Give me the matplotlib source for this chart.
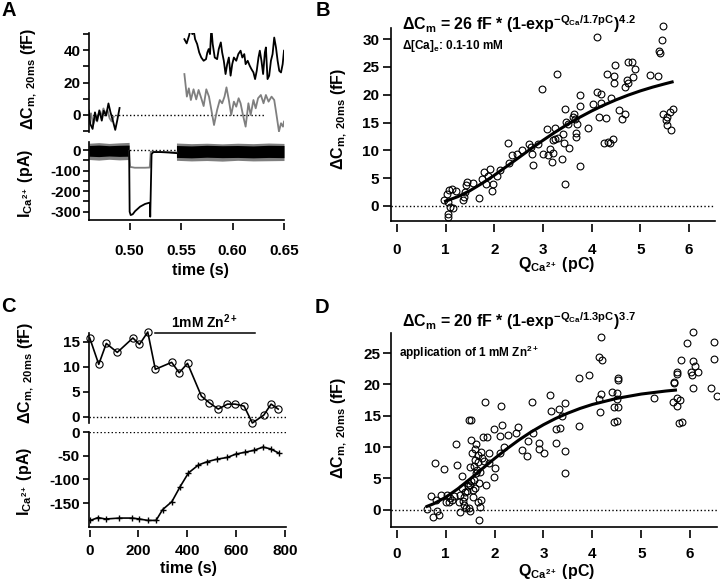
import matplotlib
matplotlib.use('Agg')
import matplotlib.pyplot as plt

plt.rcParams['font.family'] = ['Liberation Sans', 'DejaVu Sans']
plt.rcParams['font.weight'] = 'bold'
plt.rcParams['mathtext.fontset'] = 'custom'
plt.rcParams['mathtext.rm'] = 'Liberation Sans:bold'
plt.rcParams['mathtext.it'] = 'Liberation Sans:bold'
plt.rcParams['mathtext.bf'] = 'Liberation Sans:bold'
plt.rcParams['mathtext.sf'] = 'Liberation Sans:bold'
plt.rcParams['mathtext.default'] = 'regular'
plt.rcParams['axes.unicode_minus'] = False

GRAY = '#7f7f7f'

# ---- panel A: capacitance traces (fF) ----
capA_t_pre = [0.4605, 0.4617, 0.4640, 0.4663, 0.4683, 0.4706, 0.4729, 0.4748,
              0.4771, 0.4794, 0.4814, 0.4837, 0.4860, 0.4879, 0.4902]
capA_blk_pre = [2.6, -5.5, -8.6, 1.6, -3.5, 2.6, -3.5, 2.6, -0.4, 7.1, 1.6,
                -3.5, -9.2, -3.5, 4.3]
capA_t_pre_g = [0.4605, 0.4625, 0.4645, 0.4665, 0.4685, 0.4705, 0.4725, 0.4745,
                0.4765, 0.4785, 0.4805, 0.4825, 0.4845]
capA_gry_pre = [-3, 1, -6, -2, -4, 3, -1, 4, 1, 3, -2, -4, -1]

capA_t_blk = [0.5532, 0.5554, 0.5577, 0.5596, 0.5609, 0.5623, 0.5636, 0.5656,
              0.5676, 0.5696, 0.5719, 0.5742, 0.5755, 0.5768, 0.5781, 0.5794,
              0.5807, 0.5827, 0.5850, 0.5866, 0.5886, 0.5899, 0.5915, 0.5932,
              0.5948, 0.5964, 0.5981, 0.5997, 0.6013, 0.6036, 0.6056, 0.6078,
              0.6095, 0.6114, 0.6127, 0.6147, 0.6167, 0.6183, 0.6203, 0.6219,
              0.6235, 0.6252, 0.6265, 0.6281, 0.6297, 0.6314, 0.6324, 0.6340,
              0.6356, 0.6373, 0.6389, 0.6405, 0.6422, 0.6438, 0.6454, 0.6471,
              0.6487, 0.6500]
capA_blk = [46.7, 44.1, 48.8, 53.9, 49.8, 51.8, 46.7, 43.7, 38.5, 35.4, 33.4,
            34.4, 38.5, 40.6, 37.5, 53.9, 43.7, 35.4, 34.4, 40.6, 44.7, 38.5,
            33.4, 25.2, 31.3, 35.4, 24.2, 31.3, 35.4, 33.4, 37.5, 39.6, 35.4,
            37.5, 31.3, 33.4, 30.3, 28.3, 26.2, 22.1, 27.2, 35.4, 39.6, 33.4,
            25.2, 38.5, 41.6, 22.1, 24.2, 33.4, 37.5, 47.7, 41.6, 33.4, 27.2,
            26.2, 31.3, 39.6]

capA_t_gry = [0.5532, 0.5556, 0.5575, 0.5595, 0.5621, 0.5647, 0.5670, 0.5696,
              0.5719, 0.5745, 0.5771, 0.5794, 0.5820, 0.5850, 0.5876, 0.5899,
              0.5922, 0.5941, 0.5964, 0.5987, 0.6013, 0.6036, 0.6059, 0.6078,
              0.6101, 0.6127, 0.6154, 0.6176, 0.6203, 0.6225, 0.6248, 0.6275,
              0.6301, 0.6324, 0.6350, 0.6379, 0.6405, 0.6425, 0.6451, 0.6471,
              0.6490, 0.6500]
capA_gry = [25.2, 11.3, 16.4, 9.2, 15.8, 9.6, 15.4, 10.3, 5.5, 15.8, 11.3, 3.1,
            -6.2, 3.1, 9.2, 7.2, 11.3, 17.0, 9.2, 0.0, 8.2, 5.1, 10.3, 7.2, 0.0,
            -7.2, 7.2, 0.0, 9.2, 4.1, 10.3, 12.3, 7.2, 12.3, 8.2, 11.3, 9.2, 1.0,
            -10.2, -5.1, -7.2, -4.1]

# ---- panel A: Ca current (pA), noise envelopes and step ----
noise_pre_t = [0.4605, 0.470, 0.480, 0.490, 0.4995]
noise_gry_pre_lo = [-46, -49, -45, -48, -46]
noise_gry_pre_hi = [33, 36, 32, 35, 37]
noise_blk_pre_lo = [-30, -32, -29, -31, -30]
noise_blk_pre_hi = [22, 24, 21, 23, 24]
noise_post_t = [0.5455, 0.560, 0.575, 0.590, 0.605, 0.620, 0.635, 0.6500]
noise_gry_post_lo = [-50, -53, -51, -54, -50, -53, -52, -51]
noise_gry_post_hi = [34, 31, 33, 30, 33, 31, 34, 32]
noise_blk_post_lo = [-36, -38, -35, -37, -36, -38, -36, -37]
noise_blk_post_hi = [22, 20, 23, 21, 22, 20, 23, 22]
step_t_blk = [0.4995, 0.5000, 0.5010, 0.5030, 0.5053, 0.5102, 0.5150, 0.5192,
              0.5197, 0.5200, 0.5213, 0.5230, 0.5300, 0.5380, 0.5455]
step_blk = [-5, -300, -316, -312, -297, -275, -262, -256, -258, -324, -20, -10,
            -10, -12, -15]
step_t_gry = [0.4995, 0.5005, 0.5050, 0.5100, 0.5150, 0.5195, 0.5205, 0.5230,
              0.5455]
step_gry = [-5, -82, -86, -86, -86, -85, -8, -8, -12]

# ---- panel B: dCm vs Q, 0.1-10 mM Ca ----
qB = [0.97, 1.02, 1.08, 1.13, 1.04, 1.09, 1.16, 1.04, 1.04, 1.21, 1.35, 1.37,
      1.40, 1.42, 1.45, 1.56,
      1.69, 1.74, 1.78, 1.84, 1.88, 1.91, 1.95, 1.97, 2.05, 2.12, 2.29, 2.30,
      2.36, 2.46, 2.56,
      2.72, 2.75, 2.80, 2.77, 2.90, 2.97, 2.99, 3.09, 3.11, 3.14, 3.18, 3.21,
      3.20, 3.24, 3.24, 3.28, 3.31, 3.38, 3.41, 3.43, 3.45, 3.46, 3.48, 3.52,
      3.54, 3.62, 3.64, 3.65, 3.67, 3.67, 3.69, 3.76, 3.76, 3.76, 3.93,
      4.03, 4.11, 4.11, 4.18, 4.15, 4.19, 4.25, 4.29, 4.32, 4.34, 4.37, 4.39,
      4.44, 4.45, 4.45, 4.47, 4.56, 4.62, 4.68, 4.68, 4.73, 4.75, 4.75, 4.83,
      4.84, 4.88,
      5.19, 5.36, 5.38, 5.41, 5.44, 5.46, 5.46, 5.53, 5.55, 5.55, 5.60, 5.63,
      5.66]
dcB = [1.15, 2.2, 2.8, 3.0, 0.7, -0.2, -0.4, -1.4, -1.9, 2.65, 1.0, 1.6,
       2.5, 3.7, 4.3, 4.1,
       1.5, 4.9, 6.1, 3.9, 5.35, 6.6, 2.65, 4.0, 5.35, 6.4, 11.4, 7.7,
       9.1, 9.4, 10.0,
       11.2, 10.6, 7.45, 9.4, 11.1, 21.0, 9.3, 13.8, 9.1, 10.3, 7.9, 9.55,
       11.8, 14.1, 12.1, 23.7, 12.3, 8.5, 13.0, 11.4, 4.0, 17.4, 15.1, 14.7,
       10.5, 16.0, 16.6, 15.7, 13.2, 12.4, 14.7, 19.9, 18.0, 7.2, 14.1,
       18.3, 30.3, 20.5, 20.1, 16.0, 18.6, 11.35, 15.9, 23.7, 11.5, 11.35, 19.5,
       12.1, 23.4, 22.2, 25.4, 17.2, 15.6, 16.5, 21.4, 22.6, 22.2, 25.8, 25.8,
       23.2, 24.6,
       23.5, 23.4, 27.9, 27.5, 29.9, 32.3, 16.6, 15.4, 16.0, 14.5, 16.9, 13.6,
       17.5]
fitB_q = [1.0, 1.25, 1.5, 1.75, 2.0, 2.25, 2.5, 2.75, 3.0, 3.25, 3.5, 3.75,
          4.0, 4.25, 4.5, 4.75, 5.0, 5.25, 5.5, 5.65]
fitB_dc = [0.86, 1.67, 2.75, 4.07, 5.52, 7.09, 8.68, 10.27, 11.81, 13.28,
           14.66, 15.93, 17.09, 18.14, 19.09, 19.94, 20.70, 21.37, 21.96, 22.3]

# ---- panel C: time course, 1 mM Zn ----
tC_cap = [0, 37, 68, 113, 177, 204, 238, 269, 336, 367, 401, 458, 490, 527,
          565, 596, 633, 667, 714, 744, 773]
dcC = [15.8, 10.5, 14.7, 12.9, 15.8, 14.5, 17.0, 9.5, 10.9, 8.8, 10.7, 4.1,
       2.8, 1.5, 2.5, 2.5, 2.1, -1.3, 0.3, 2.5, 1.5]
tC_cur = [3, 34, 65, 122, 174, 204, 238, 272, 299, 337, 371, 405, 446, 483,
          520, 565, 599, 637, 673, 711, 742, 776]
iC = [-187, -181, -184, -182, -182, -184, -187, -187, -164, -147, -115, -86,
      -69, -62, -57, -53, -46, -42, -38, -31, -35, -44]
zn_start, zn_end = 268, 676

# ---- panel D: dCm vs Q during Zn application ----
qD = [0.61, 0.70, 0.74, 0.79, 0.80, 0.83, 0.86, 0.91, 0.97, 1.00, 1.02, 1.06,
      1.09, 1.13, 1.16, 1.21, 1.24, 1.28, 1.30, 1.30, 1.33, 1.33, 1.37, 1.38,
      1.42,
      1.45, 1.47, 1.52, 1.49, 1.50, 1.52, 1.54, 1.56, 1.57, 1.59, 1.60, 1.62,
      1.64, 1.66, 1.67, 1.69, 1.71, 1.69, 1.74, 1.77, 1.81, 1.84, 1.88, 1.83,
      1.89, 1.98, 2.00, 1.98, 1.46, 1.52, 1.40, 1.55, 1.60, 1.62, 1.48, 1.36,
      1.44, 1.50, 1.58, 1.65, 1.70, 1.72, 1.78, 1.73,
      2.10, 2.12, 2.14, 2.15, 2.20, 2.28, 2.44, 2.47, 2.56, 2.68, 2.66, 2.77,
      2.78, 2.90, 2.90, 3.01, 3.13, 3.15, 3.26, 3.26, 3.33, 3.31, 3.38, 3.45,
      3.45, 3.45, 3.72, 3.72, 3.93,
      4.13, 4.17, 4.20, 4.15, 4.14, 4.17, 4.40, 4.51, 4.51, 4.45, 4.52, 4.44,
      4.51, 4.52, 4.53,
      5.26, 5.64, 5.67, 5.68, 5.73, 5.74, 5.74, 5.80, 5.74, 5.77, 5.84, 5.81,
      5.94, 6.05, 6.06, 6.09, 6.16, 6.02, 6.04, 6.06, 6.42, 6.49, 6.49, 6.54]
dcD = [0.1, 2.2, -1.2, 7.4, 1.6, -0.2, -0.8, 2.4, 6.5, 1.3, 2.4, 1.2,
       1.9, 1.6, 2.2, 10.5, 7.2, 1.2, 2.4, -0.4, 3.4, 5.4, 2.0, 0.8,
       0.3,
       4.2, 14.4, 14.3, -0.2, 6.9, 11.2, 9.0, 3.2, 4.8, 9.7, 8.0, 10.5,
       6.4, 8.8, 1.3, 4.2, 0.5, -1.6, 8.3, 11.6, 17.2, 11.6, 9.0, 4.0,
       7.4, 5.2, 6.6, 12.9, 3.8, 4.6, 2.8, 2.0, 3.5, 5.8, 0.3, 1.4,
       3.0, 4.0, 7.0, 7.6, 6.0, 9.2, 7.8, 1.5,
       11.7, 9.0, 16.6, 13.5, 10.0, 11.9, 12.2, 13.2, 9.6, 11.0, 8.5, 17.2,
       12.3, 10.7, 9.7, 9.0, 18.3, 15.8, 10.6, 12.9, 13.0, 16.0, 14.9, 17.0,
       9.4, 5.8, 13.3, 21.1, 21.5,
       24.4, 27.6, 23.9, 15.6, 17.6, 18.5, 18.8, 18.6, 17.6, 16.4, 16.4, 14.0,
       14.2, 21.0, 20.7,
       17.9, 17.2, 20.4, 20.2, 22.0, 21.6, 17.9, 17.5, 16.6, 13.9, 14.0, 23.9,
       26.6, 28.3, 23.8, 23.0, 21.9, 21.9, 21.5, 19.5, 19.4, 26.8, 24.1, 18.1]
fitD_q = [0.62, 0.75, 1.0, 1.25, 1.5, 1.75, 2.0, 2.25, 2.5, 2.75, 3.0, 3.25,
          3.5, 3.75, 4.0, 4.5, 5.0, 5.5, 5.7]
fitD_dc = [0.55, 0.95, 2.0, 3.36, 4.92, 6.56, 8.18, 9.72, 11.15, 12.43, 13.57,
           14.57, 15.42, 16.17, 16.80, 17.77, 18.46, 18.94, 19.09]

W, H = 720, 584
fig = plt.figure(figsize=(7.2, 5.84), dpi=100)


def px_axes(l, t, r, b):
    ax = fig.add_axes([l / W, 1 - b / H, (r - l) / W, (b - t) / H])
    ax.patch.set_alpha(0)
    return ax


def ftext(x, y, s, **kw):
    fig.text(x / W, 1 - y / H, s, **kw)


def frame(ax, ylen, ypad, xlen=5, xpad=6, xaxis=True):
    ax.spines[['top', 'right']].set_visible(False)
    ax.spines['left'].set_linewidth(1.2)
    ax.tick_params(axis='y', direction='out', length=ylen, width=1.2,
                   pad=ypad, labelsize=11)
    if xaxis:
        ax.spines['bottom'].set_position(('outward', 2.5))
        ax.spines['bottom'].set_visible(False)
        ax.axhline(ax.get_ylim()[0], color='k', lw=1.2, clip_on=False)
        ax.tick_params(axis='x', direction='out', length=xlen, width=1.2,
                       pad=xpad, labelsize=11)
    else:
        ax.spines['bottom'].set_visible(False)
        ax.tick_params(axis='x', bottom=False, labelbottom=False)


# ---------------- A ----------------
axA1 = px_axes(89, 33, 284, 132)
axA1.set_xlim(0.4605, 0.65)
axA1.set_ylim(-10.5, 50.5)
axA1.plot([0.4605, 0.632], [0, 0], ':', color='k', lw=1)
axA1.plot(capA_t_pre_g, capA_gry_pre, color=GRAY, lw=1.3)
axA1.plot(capA_t_pre, capA_blk_pre, color='k', lw=1.3)
axA1.plot(capA_t_gry, capA_gry, color=GRAY, lw=1.3)
axA1.plot(capA_t_blk, capA_blk, color='k', lw=1.3)
axA1.set_yticks([-10, 0, 10, 20, 30, 40, 50], ['', '0', '', '20', '', '40', ''])
frame(axA1, ylen=4, ypad=2, xaxis=False)

axA2 = px_axes(89, 142, 284, 220)
axA2.set_xlim(0.4605, 0.65)
axA2.set_ylim(-340, 39)
axA2.plot([0.4605, 0.65], [0, 0], ':', color='k', lw=1)
axA2.fill_between(noise_pre_t, noise_gry_pre_lo, noise_gry_pre_hi, color=GRAY, lw=0)
axA2.fill_between(noise_post_t, noise_gry_post_lo, noise_gry_post_hi, color=GRAY, lw=0)
axA2.fill_between(noise_pre_t, noise_blk_pre_lo, noise_blk_pre_hi, color='k', lw=0)
axA2.fill_between(noise_post_t, noise_blk_post_lo, noise_blk_post_hi, color='k', lw=0)
axA2.plot(step_t_gry, step_gry, color=GRAY, lw=1.3)
axA2.plot(step_t_blk, step_blk, color='k', lw=1.3)
axA2.set_yticks([-300, -250, -200, -150, -100, -50, 0],
                ['-300', '', '-200', '', '-100', '', '0'])
axA2.set_xticks([0.50, 0.55, 0.60, 0.65], ['0.50', '0.55', '0.60', '0.65'])
frame(axA2, ylen=4, ypad=2, xlen=5, xpad=10)

# ---------------- B ----------------
axB = px_axes(391, 28, 715, 221)
axB.set_xlim(-0.12, 6.53)
axB.set_ylim(-2.7, 32)
axB.axhline(0, ls=':', color='k', lw=1)
axB.plot(qB, dcB, 'o', mfc='none', mec='k', ms=4.9, mew=0.8, clip_on=False)
axB.plot(fitB_q, fitB_dc, color='k', lw=2.2)
axB.set_xticks(range(7))
axB.set_yticks(range(0, 31, 5))
frame(axB, ylen=5.5, ypad=3, xlen=5.5, xpad=7.5)

# ---------------- C ----------------
axC1 = px_axes(89, 333, 286, 423)
axC1.set_xlim(-3, 805)
axC1.set_ylim(-1.3, 16.8)
axC1.axhline(0, ls=':', color='k', lw=1)
axC1.plot(tC_cap, dcC, '-o', color='k', lw=1.2, mfc='none', mec='k', ms=5.2,
          mew=0.8, clip_on=False)
axC1.plot([zn_start, zn_end], [16.9, 16.9], color='k', lw=1.1, clip_on=False)
axC1.text((zn_start + zn_end) / 2, 17.8, r'1mM Zn$^{2+}$', ha='center',
          va='baseline', fontsize=10)
axC1.set_yticks([0, 5, 10, 15])
frame(axC1, ylen=4.5, ypad=2, xaxis=False)

axC2 = px_axes(89, 432, 286, 527)
axC2.set_xlim(-3, 805)
axC2.set_ylim(-201, 1)
axC2.axhline(0, ls=':', color='k', lw=1)
axC2.plot(tC_cur, iC, '-+', color='k', lw=1.2, ms=5, mew=1)
axC2.set_yticks([0, -50, -100, -150])
axC2.set_xticks([0, 200, 400, 600, 800])
frame(axC2, ylen=4.5, ypad=2, xlen=5, xpad=5)

# ---------------- D ----------------
axD = px_axes(391, 333, 717, 527)
axD.set_xlim(-0.12, 6.55)
axD.set_ylim(-2.75, 28.2)
axD.axhline(0, ls=':', color='k', lw=1)
axD.plot(qD, dcD, 'o', mfc='none', mec='k', ms=4.9, mew=0.8, clip_on=False)
axD.plot(fitD_q, fitD_dc, color='k', lw=2.2)
axD.set_xticks(range(7))
axD.set_yticks(range(0, 26, 5))
frame(axD, ylen=5.5, ypad=2, xlen=5.5, xpad=6.5)

# ---------------- labels ----------------
for letter, x, y in [('A', 1, 16), ('B', 316, 16), ('C', 1, 312), ('D', 315, 313)]:
    ftext(x, y, letter, fontsize=14.5, va='baseline', ha='left')

dcm_label = r'ΔC$_{m,\ 20ms}$ (fF)'
ica_label = r'I$_{Ca^{2+}}$ (pA)'
q_label = r'Q$_{Ca^{2+}}$ (pC)'
ftext(29, 79, dcm_label, rotation=90, ha='center', va='center', fontsize=11.5)
ftext(26, 183, ica_label, rotation=90, ha='center', va='center', fontsize=11.5)
ftext(26, 373, dcm_label, rotation=90, ha='center', va='center', fontsize=11.5)
ftext(24, 481, ica_label, rotation=90, ha='center', va='center', fontsize=11.5)
ftext(339, 119, dcm_label, rotation=90, ha='center', va='center', fontsize=11.5)
ftext(339, 428, dcm_label, rotation=90, ha='center', va='center', fontsize=11.5)

ftext(200, 275, 'time (s)', ha='center', va='baseline', fontsize=11.5)
ftext(188, 573, 'time (s)', ha='center', va='baseline', fontsize=11.5)
ftext(557, 269, q_label, ha='center', va='baseline', fontsize=11.5)
ftext(557, 576, q_label, ha='center', va='baseline', fontsize=11.5)

ftext(402, 30, r'ΔC$_m$ = 26 fF * (1-exp$^{-Q_{Ca}/1.7pC}$)$^{4.2}$',
      ha='left', va='baseline', fontsize=11.5)
ftext(402, 49, r'Δ[Ca]$_e$: 0.1-10 mM', ha='left', va='baseline', fontsize=8.5)
ftext(402, 327, r'ΔC$_m$ = 20 fF * (1-exp$^{-Q_{Ca}/1.3pC}$)$^{3.7}$',
      ha='left', va='baseline', fontsize=11.5)
ftext(399, 357, r'application of 1 mM Zn$^{2+}$', ha='left', va='baseline',
      fontsize=8.5)

fig.savefig('out.png', dpi=100)
